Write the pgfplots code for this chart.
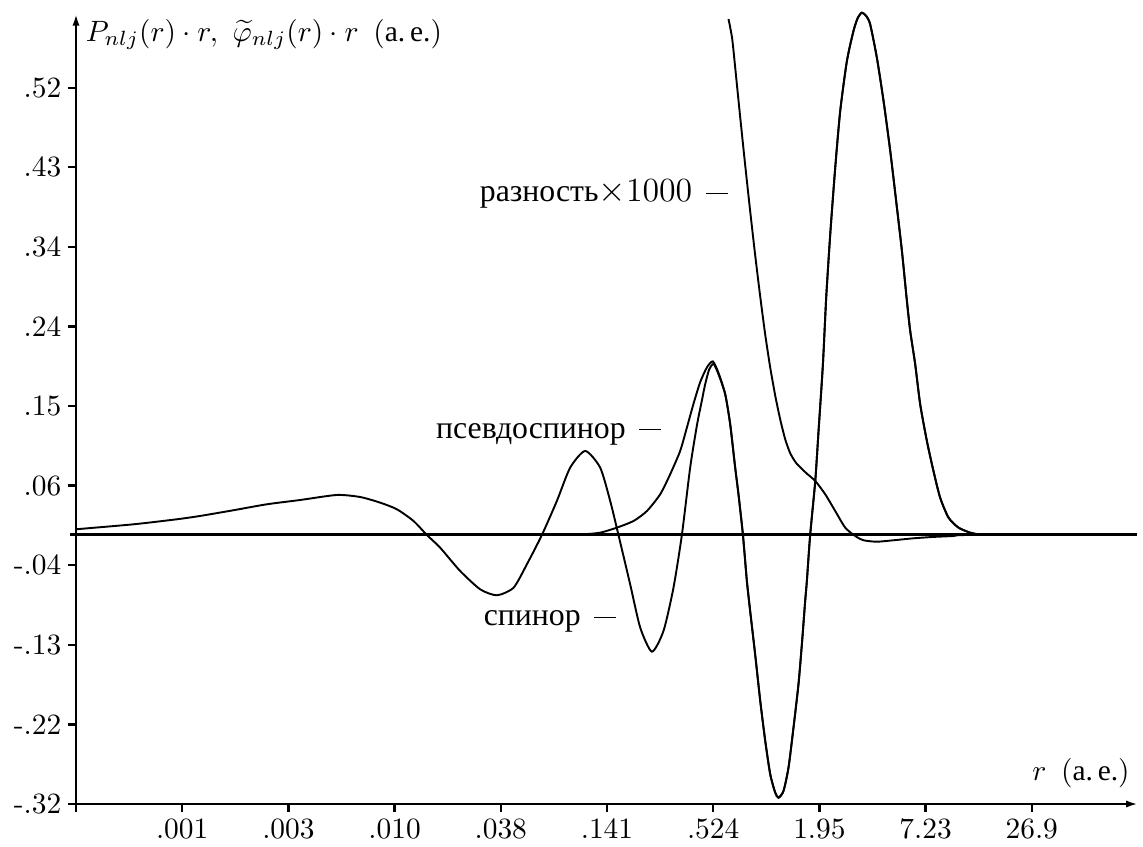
\documentclass[border=0pt]{standalone}
\usepackage{fontspec}
\usepackage{pgfplots}
\usepackage{pgfplotstable}
\pgfplotsset{compat=1.18}
\usetikzlibrary{arrows.meta}
\newfontfamily\cyr{Liberation Serif}
\newcommand{\ann}{\hspace{4.6pt}\rule[2.7pt]{7.5pt}{0.4pt}}

\pgfplotstableread{
u v
0.000 0.0067
0.541 0.0125
0.950 0.0184
1.169 0.0223
1.483 0.0290
1.798 0.0360
2.111 0.0410
2.457 0.0469
2.676 0.0445
2.864 0.0379
3.022 0.0301
3.178 0.0164
3.304 0.0000
3.429 -0.0149
3.617 -0.0422
3.806 -0.0637
3.963 -0.0707
4.120 -0.0618
4.246 -0.0343
4.387 0.0000
4.528 0.0399
4.653 0.0789
4.795 0.0985
4.936 0.0789
5.030 0.0399
5.108 0.0000
5.218 -0.0578
5.313 -0.1087
5.423 -0.1368
5.532 -0.1125
5.626 -0.0618
5.705 0.0000
5.783 0.0789
5.846 0.1280
5.894 0.1580
5.925 0.1770
5.962 0.1940
6.003 0.2005
6.050 0.1884
6.113 0.1650
6.160 0.1298
6.207 0.0789
6.238 0.0477
6.280 0.0000
6.317 -0.0539
6.348 -0.0891
6.395 -0.1399
6.443 -0.1946
6.490 -0.2415
6.537 -0.2805
6.584 -0.3021
6.615 -0.3080
6.662 -0.3001
6.709 -0.2728
6.756 -0.2259
6.803 -0.1750
6.835 -0.1281
6.866 -0.0774
6.882 -0.0539
6.913 0.0000
6.961 0.0633
6.992 0.1219
7.033 0.2001
7.064 0.2782
7.102 0.3525
7.149 0.4306
7.196 0.4971
7.259 0.5557
7.321 0.5909
7.361 0.6061
7.400 0.6123
7.441 0.6084
7.478 0.5987
7.541 0.5596
7.604 0.5088
7.667 0.4502
7.730 0.3837
7.777 0.3329
7.824 0.2743
7.855 0.2392
7.902 0.2001
7.949 0.1532
8.012 0.1102
8.074 0.0750
8.137 0.0437
8.216 0.0203
8.310 0.0086
8.420 0.0027
8.498 0.0008
8.608 0.0000
9.900 0.0000
}\spinor

\pgfplotstableread{
u v
4.600 0.0000
4.779 0.0008
4.936 0.0027
5.093 0.0086
5.250 0.0164
5.376 0.0281
5.501 0.0477
5.595 0.0712
5.689 0.0985
5.752 0.1258
5.815 0.1540
5.877 0.1790
5.941 0.1965
5.997 0.2035
6.050 0.1899
6.113 0.1650
6.160 0.1298
6.207 0.0789
6.238 0.0477
6.280 0.0000
6.317 -0.0539
6.348 -0.0891
6.395 -0.1399
6.443 -0.1946
6.490 -0.2415
6.537 -0.2805
6.584 -0.3021
6.615 -0.3080
6.662 -0.3001
6.709 -0.2728
6.756 -0.2259
6.803 -0.1750
6.835 -0.1281
6.866 -0.0774
6.882 -0.0539
6.913 0.0000
6.961 0.0633
6.992 0.1219
7.033 0.2001
7.064 0.2782
7.102 0.3525
7.149 0.4306
7.196 0.4971
7.259 0.5557
7.321 0.5909
7.361 0.6061
7.400 0.6123
7.441 0.6084
7.478 0.5987
7.541 0.5596
7.604 0.5088
7.667 0.4502
7.730 0.3837
7.777 0.3329
7.824 0.2743
7.855 0.2392
7.902 0.2001
7.949 0.1532
8.012 0.1102
8.074 0.0750
8.137 0.0437
8.216 0.0203
8.310 0.0086
8.420 0.0027
8.498 0.0008
8.608 0.0000
9.900 0.0000
}\pseudo

\pgfplotstableread{
u v
6.144 0.6049
6.179 0.5815
6.216 0.5369
6.254 0.4900
6.301 0.4338
6.348 0.3798
6.395 0.3283
6.442 0.2802
6.489 0.2356
6.536 0.1970
6.583 0.1641
6.630 0.1360
6.677 0.1126
6.724 0.0962
6.781 0.0844
6.875 0.0727
6.961 0.0633
7.055 0.0477
7.149 0.0281
7.243 0.0086
7.337 -0.0012
7.415 -0.0062
7.541 -0.0079
7.698 -0.0062
7.886 -0.0039
8.074 -0.0023
8.263 -0.0012
8.420 0.0000
9.900 0.0000
}\diffr

\begin{document}
\begin{tikzpicture}
\useasboundingbox (-25.84pt,-14.28pt) rectangle (362.78pt,273.36pt);
\begin{axis}[
  at={(0,0)}, anchor=south west,
  x=36.108pt, y=290.02pt,
  xmin=0, xmax=10, ymin=-0.3154, ymax=0.611,
  axis lines=left,
  axis line style={line width=0.8pt, -{Latex[length=4pt,width=2.4pt]}},
  clip=false,
  xtick={0,1,2,3,4,5,6,7,8,9},
  xticklabels={,.001,.003,.010,.038,.141,.524,1.95,7.23,26.9},
  ytick={-0.3154,-0.2221,-0.1288,-0.0355,0.0578,0.1511,0.2444,0.3377,0.4310,0.5243},
  yticklabels={-.32,-.22,-.13,-.04,.06,.15,.24,.34,.43,.52},
  tick align=outside,
  major tick length=2.8pt,
  tick style={line width=0.8pt, black},
  xticklabel style={inner sep=2pt},
  yticklabel style={inner sep=2pt},
]
\addplot[black, line width=1.0pt] coordinates {(-0.055,0) (9.99,0)};
\addplot[black, line width=0.65pt, smooth, tension=0.4] table[x=u,y=v] {\spinor};
\addplot[black, line width=0.65pt, smooth, tension=0.4] table[x=u,y=v] {\pseudo};
\addplot[black, line width=0.65pt, smooth, tension=0.4] table[x=u,y=v] {\diffr};

\node[anchor=base west, inner sep=0pt] at (axis cs:0.087,0.5785)
  {$P_{nlj}(r)\cdot r,\ \widetilde{\varphi}_{nlj}(r)\cdot r$\ \,({\cyr а.\,е.})};
\node[anchor=base east, inner sep=0pt] at (axis cs:9.927,-0.2884)
  {$r$\ \,({\cyr а.\,е.})};
\node[anchor=base east, inner sep=0pt] at (axis cs:6.144,0.3904)
  {{\cyr\fontsize{10.8}{13}\selectfont разность}{\fontsize{11.5}{13}\selectfont$\times$1000}\ann};
\node[anchor=base east, inner sep=0pt] at (axis cs:5.517,0.1134)
  {{\cyr\fontsize{10.8}{13}\selectfont псевдоспинор}\ann};
\node[anchor=base east, inner sep=0pt] at (axis cs:5.093,-0.1067)
  {{\cyr\fontsize{10.8}{13}\selectfont спинор}\ann};
\end{axis}
\end{tikzpicture}
\end{document}
